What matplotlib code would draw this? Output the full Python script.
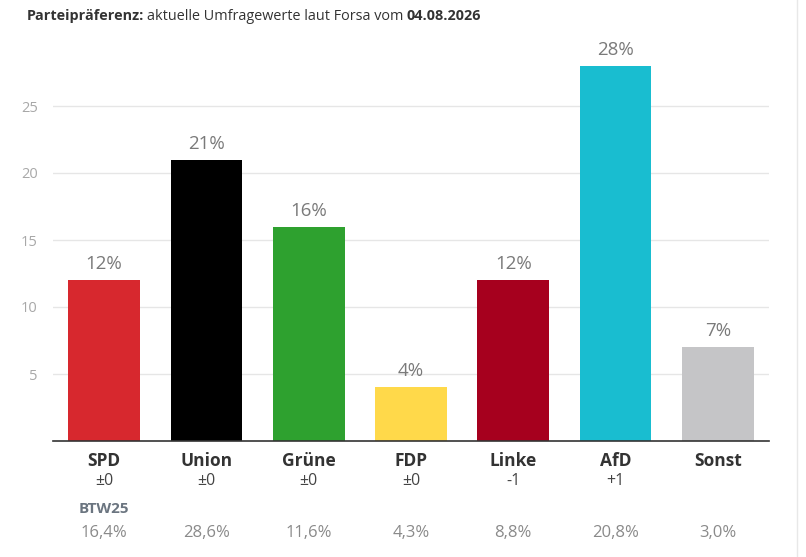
import matplotlib
matplotlib.use("Agg")
import matplotlib.pyplot as plt
from matplotlib.lines import Line2D

parties = ["SPD", "Union", "Grüne", "FDP", "Linke", "AfD", "Sonst"]
values = [12, 21, 16, 4, 12, 28, 7]
changes = ["±0", "±0", "±0", "±0", "-1", "+1", ""]
btw25 = ["16,4%", "28,6%", "11,6%", "4,3%", "8,8%", "20,8%", "3,0%"]
colors = ["#d7282e", "#000000", "#2ea12f", "#ffd94a", "#a6001e", "#19bdd0", "#c5c5c7"]
yticks = [5, 10, 15, 20, 25]

plt.rcParams['font.family'] = ['Open Sans', 'DejaVu Sans']

W, H = 806, 557
fig = plt.figure(figsize=(W / 100, H / 100), dpi=100)
fig.patch.set_facecolor("white")

ax_l, ax_r, ax_b, ax_t = 53, 769, 441, 39
ax = fig.add_axes([ax_l / W, (H - ax_b) / H, (ax_r - ax_l) / W, (ax_b - ax_t) / H])

x = list(range(len(parties)))
ax.bar(x, values, width=0.70, color=colors, zorder=3)
ax.set_xlim(-0.5, len(parties) - 0.5)
ax.set_ylim(0, 30)

for xi, v in zip(x, values):
    ax.annotate(f"{v}%", (xi, v), xytext=(0, 5), textcoords="offset points",
                ha="center", va="bottom", fontsize=13.5, color="#7a7a7a", zorder=4)

ax.set_yticks(yticks)
ax.set_yticklabels([str(t) for t in yticks], fontsize=10.5, color="#a8a8a8")
ax.tick_params(axis="y", length=0, pad=11)
ax.set_xticks([])
ax.grid(axis="y", color="#e6e6e6", linewidth=1, zorder=0)
for s in ["top", "right", "left"]:
    ax.spines[s].set_visible(False)
ax.spines["bottom"].set_color("#333333")
ax.spines["bottom"].set_linewidth(1.2)
ax.spines["bottom"].set_zorder(5)

trans = ax.get_xaxis_transform()

def ay(py):
    return -(py - ax_b) / (ax_b - ax_t)

for xi, p, c, b in zip(x, parties, changes, btw25):
    ax.text(xi, ay(461), p, transform=trans, ha="center", va="center",
            fontsize=12.5, fontweight="bold", color="#333333")
    if c:
        ax.text(xi, ay(481), c, transform=trans, ha="center", va="center",
                fontsize=11.5, color="#444444")
    ax.text(xi, ay(533), b, transform=trans, ha="center", va="center",
            fontsize=12, color="#8a8a8a")

ax.text(0, ay(509), "BTW25", transform=trans, ha="center", va="center",
        fontsize=11, fontweight="bold", color="#6b7580")

# Title
ty = 1 - 16 / H
fig.canvas.draw()
r = fig.canvas.get_renderer()
t0 = fig.text(27 / W, ty, "Parteipräferenz:", ha="left", va="center",
              fontsize=10.4, fontweight="bold", color="#333333")
bb = t0.get_window_extent(r)
t2 = fig.text((bb.x1 + 3) / W, ty, "aktuelle Umfragewerte laut Forsa vom", ha="left", va="center",
              fontsize=10.4, color="#333333")
bb2 = t2.get_window_extent(r)
fig.text((bb2.x1 + 3) / W, ty, "04.08.2026", ha="left", va="center",
         fontsize=10.4, fontweight="bold", color="#333333")

# right edge line
fig.add_artist(Line2D([797 / W, 797 / W], [0, 1], transform=fig.transFigure,
                      color="#e8e8e8", linewidth=1))

fig.savefig("out.png", dpi=100, facecolor="white")
